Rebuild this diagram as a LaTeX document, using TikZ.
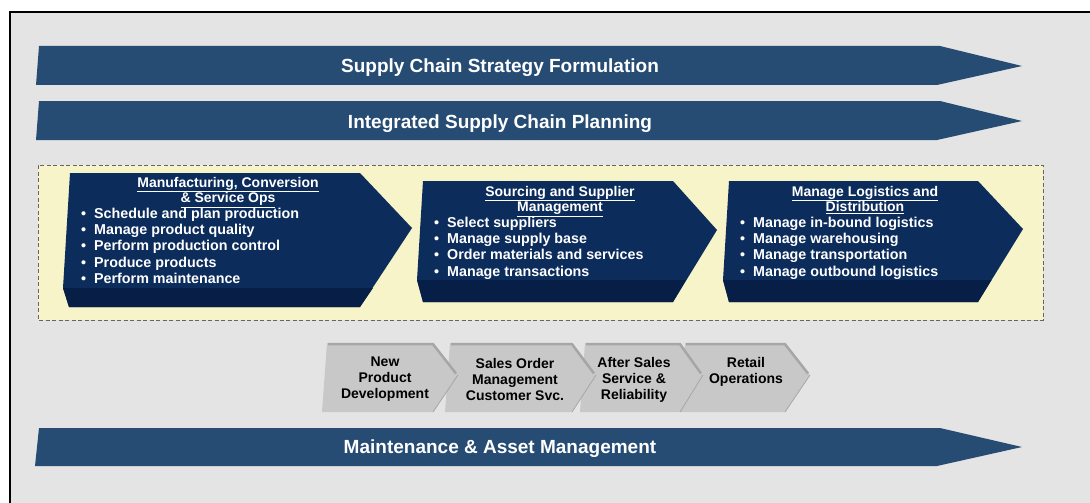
\documentclass[tikz,border=0pt]{standalone}
\usepackage{fontspec}
\setmainfont{Liberation Sans}
\definecolor{bandblue}{HTML}{274C74}
\definecolor{navy}{HTML}{0C2C5C}
\definecolor{navydark}{HTML}{071F46}
\definecolor{framebg}{HTML}{E4E4E4}
\definecolor{paleyellow}{HTML}{F6F4C8}
\definecolor{chevgray}{HTML}{C8C8C8}
\definecolor{chevedge}{HTML}{A6A6A6}
\tikzset{
  band/.style={fill=bandblue,draw=none},
  bandtext/.style={text=white,font=\bfseries\fontsize{19}{22}\selectfont,inner sep=0,anchor=base},
  navybox/.style={fill=navy,draw=none},
  navystrip/.style={fill=navydark,draw=none},
  boxtitle/.style={text=white,font=\bfseries\fontsize{14}{16}\selectfont,inner sep=0,anchor=base},
  boxitem/.style={text=white,font=\bfseries\fontsize{14.3}{16}\selectfont,inner sep=0,anchor=base west},
  chev/.style={fill=chevgray,draw=none},
  chevtop/.style={draw=chevedge,line width=2.5pt},
  chevtext/.style={text=black,font=\bfseries\fontsize{14}{16}\selectfont,align=center,inner sep=0}
}
\newcommand{\bul}[1]{\makebox[13pt][l]{\textbullet}#1}
\begin{document}
\begin{tikzpicture}[x=1pt,y=-1pt]
\useasboundingbox (0,0) rectangle (1090,503);
\fill[white] (0,0) rectangle (1090,503);
% frame
\draw[fill=framebg,line width=1.3pt] (10,12) rectangle (1110,520);

% bands
\fill[band] (39,46) -- (940,46) -- (1022,66) -- (937,85) -- (36,85) -- cycle;
\node[bandtext] (b1) at (500,72.5) {Supply Chain Strategy Formulation};
\fill[band] (39,101) -- (940,101) -- (1022,121) -- (937,140) -- (36,140) -- cycle;
\node[bandtext] (b2) at (500,128.5) {Integrated Supply Chain Planning};
\fill[band] (39,428) -- (940,428) -- (1022,447) -- (937,466) -- (35,466) -- cycle;
\node[bandtext] (b3) at (500,453.5) {Maintenance \& Asset Management};

% dashed box
\draw[fill=paleyellow,draw=black!60,line width=0.9pt,dash pattern=on 4pt off 2.5pt] (38,165) rectangle (1043,320);

% navy box 1
\fill[navybox] (70,173) -- (360,173) -- (412,228) -- (360,307) -- (69,307) -- (63,288) -- cycle;
\fill[navystrip] (63,288) -- (373,288) -- (360,307) -- (69,307) -- cycle;
\node[boxtitle] (t1a) at (228,187) {\underline{Manufacturing, Conversion}};
\node[boxtitle] (t1b) at (228,202.5) {\underline{\& Service Ops}};
\foreach \txt [count=\i] in {Schedule and plan production,Manage product quality,Perform production control,Produce products,Perform maintenance}
  \node[boxitem] (i1\i) at (81,{218.5+16.2*(\i-1)}) {\bul{\txt}};

% navy box 2
\fill[navybox] (423,181) -- (673,181) -- (717,230) -- (673,302) -- (423,302) -- (417,280) -- cycle;
\fill[navystrip] (417,280) -- (686,280) -- (673,302) -- (423,302) -- cycle;
\node[boxtitle] (t2a) at (560,196) {\underline{Sourcing and Supplier}};
\node[boxtitle] (t2b) at (560,211.5) {\underline{Management}};
\foreach \txt [count=\i] in {Select suppliers,Manage supply base,Order materials and services,Manage transactions}
  \node[boxitem] (i2\i) at (434,{227.5+16.2*(\i-1)}) {\bul{\txt}};

% navy box 3
\fill[navybox] (729,181) -- (978,181) -- (1023,229) -- (978,302) -- (729,302) -- (723,280) -- cycle;
\fill[navystrip] (723,280) -- (991.5,280) -- (978,302) -- (729,302) -- cycle;
\node[boxtitle] (t3a) at (865,196) {\underline{Manage Logistics and}};
\node[boxtitle] (t3b) at (865,211.5) {\underline{Distribution}};
\foreach \txt [count=\i] in {Manage in-bound logistics,Manage warehousing,Manage transportation,Manage outbound logistics}
  \node[boxitem] (i3\i) at (740,{227.5+16.2*(\i-1)}) {\bul{\txt}};

% gray chevrons (right to left so tips overlap)
\fill[chev] (685,343) -- (785,343) -- (810,375) -- (785,412) -- (680,412) -- cycle;
\draw[chevtop] (686,344.2) -- (785,344.2) -- (808,373.5);
\fill[chev] (585,343) -- (680,343) -- (703,375) -- (680,412) -- (580,412) -- cycle;
\draw[chevtop] (586,344.2) -- (680,344.2) -- (701,373.5);
\fill[chev] (450,343) -- (572,343) -- (596,375) -- (572,412) -- (445,412) -- cycle;
\draw[chevtop] (451,344.2) -- (572,344.2) -- (594,373.5);
\fill[chev] (327,343) -- (433,343) -- (458,375) -- (433,412) -- (322,412) -- cycle;
\draw[chevtop] (328,344.2) -- (433,344.2) -- (456,373.5);
\draw[chevedge,line width=0.8pt] (458,375) -- (433,412);
\draw[chevedge,line width=0.8pt] (596,375) -- (572,412);
\draw[chevedge,line width=0.8pt] (703,375) -- (680,412);
\draw[chevedge,line width=0.8pt] (810,375) -- (785,412);

\node[chevtext] (c1) at (385,379.5) {New\\Product\\Development};
\node[chevtext] (c2) at (515,379.5) {Sales Order\\Management\\Customer Svc.};
\node[chevtext] (c3) at (634,379.5) {After Sales\\Service \&\\Reliability};
\node[chevtext] (c4) at (746,371.5) {Retail\\Operations};
\end{tikzpicture}
\end{document}
